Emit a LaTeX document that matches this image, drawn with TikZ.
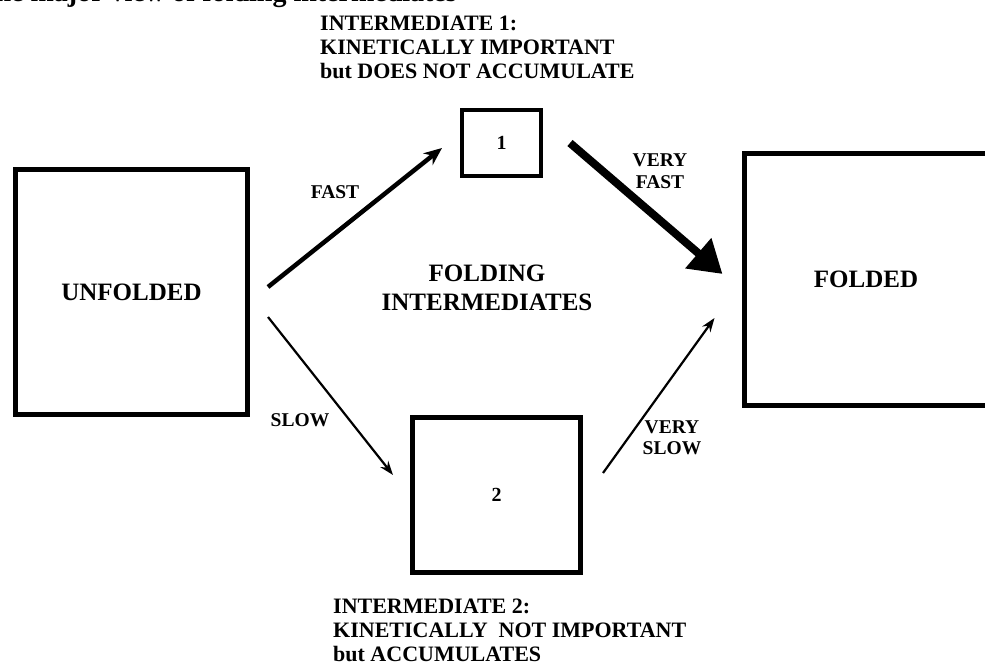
\documentclass[tikz,border=0pt]{standalone}
\usepackage{fontspec}
\setmainfont{Liberation Serif}
\usetikzlibrary{calc}
\usetikzlibrary{arrows.meta}

\tikzset{
    statebox/.style={draw,line width=5pt,inner sep=0pt,
        font=\fontsize{25}{27}\selectfont\bfseries},
    ratelabel/.style={align=center,inner sep=0pt,
        font=\fontsize{19.5}{21.5}\selectfont\bfseries},
    notelabel/.style={anchor=west,align=left,inner sep=0pt,
        font=\fontsize{22}{24}\selectfont\bfseries},
    slowarrow/.style={line width=2.2pt,-{Stealth[length=14pt,width=10pt]}},
    fastarrow/.style={line width=4.5pt,-{Stealth[length=18pt,width=15pt]}},
    veryfastarrow/.style={line width=8pt,-{Triangle[length=32pt,width=38pt]}}
}

\begin{document}
\begin{tikzpicture}[x=1pt,y=-1pt]%
        \useasboundingbox (0,0) rectangle (985,669);
        % cut-off caption line at the top
        \node[anchor=base east,inner sep=0pt,font=\fontsize{28}{30}\selectfont\bfseries]
            (caption) at (457,2) {the major view of folding intermediates};
        % states
        \node[statebox,minimum width=232pt,minimum height=245pt] (unf) at (131.5,292) {UNFOLDED};
        \node[statebox,minimum width=244pt,minimum height=252pt] (fold) at (866,279) {FOLDED};
        \node[statebox,line width=4pt,minimum width=79pt,minimum height=66pt,
            font=\fontsize{20}{22}\selectfont\bfseries] (int1) at (501.5,143) {1};
        \node[statebox,minimum width=168pt,minimum height=155pt,
            font=\fontsize{20}{22}\selectfont\bfseries] (int2) at (496.5,495) {2};
        % texts
        \node[ratelabel,font=\fontsize{25}{29}\selectfont\bfseries] (mid) at (487,288)
            {FOLDING\\INTERMEDIATES};
        \node[notelabel] (note1) at (320,47.5)
            {INTERMEDIATE 1:\\KINETICALLY IMPORTANT\\but DOES NOT ACCUMULATE};
        \node[notelabel] (note2) at (333,630)
            {INTERMEDIATE 2:\\KINETICALLY\ \ NOT IMPORTANT\\but ACCUMULATES};
        \node[ratelabel] (fast) at (335,192) {FAST};
        \node[ratelabel] (vfast) at (660,171) {VERY\\FAST};
        \node[ratelabel] (slow) at (300,420) {SLOW};
        \node[ratelabel] (vslow) at (672,438) {VERY\\SLOW};
        % steps
        \draw[fastarrow] ($(unf.east)+(18,-5)$) -- ($(int1.west)+(-18,5)$);
        \draw[veryfastarrow] ($(int1.east)+(27,0)$) -- ($(fold.west)+(-19,-5)$);
        \draw[slowarrow] ($(unf.east)+(18,25)$) -- ($(int2.west)+(-17,-20)$);
        \draw[slowarrow] ($(int2.east)+(20,-22)$) -- ($(fold.west)+(-27,39)$);
    \end{tikzpicture}
\end{document}
